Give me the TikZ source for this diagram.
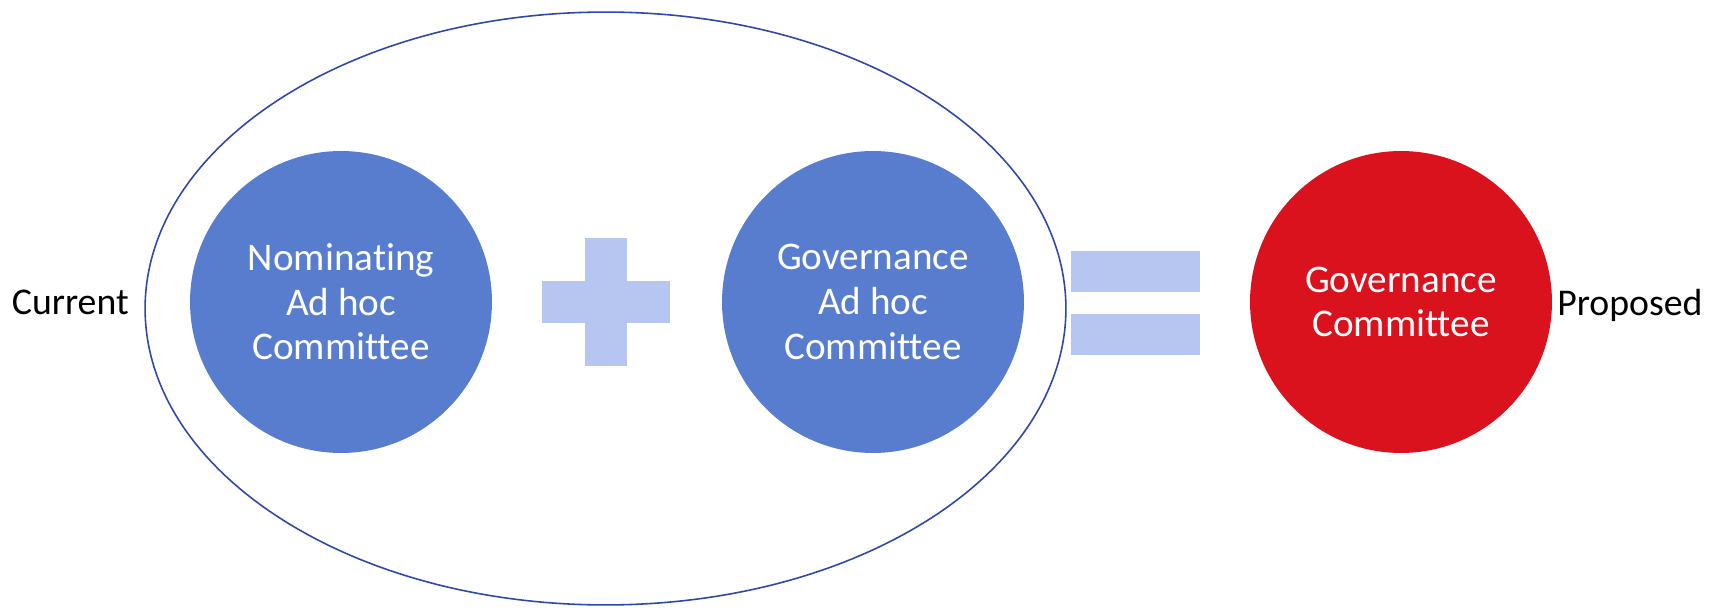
\documentclass[tikz,border=0pt]{standalone}
\usepackage{fontspec}
\setmainfont{Carlito}[Ligatures=NoCommon]
\usetikzlibrary{shapes.geometric}
\definecolor{committeeblue}{RGB}{88,124,206}
\definecolor{committeered}{RGB}{218,18,30}
\definecolor{signblue}{RGB}{182,198,240}
\definecolor{rimblue}{RGB}{46,72,170}
\begin{document}
\begin{tikzpicture}[x=0.02cm,y=0.02cm,
		committee/.style={circle,fill=#1,minimum size=6.04cm,inner sep=0pt,
			text=white,align=center,font=\mycirclefont},
		signbar/.style={rectangle,fill=signblue,inner sep=0pt},
		sidelabel/.style={font=\mytextfont,inner sep=0pt}]
		\newcommand{\mytextfont}{\fontsize{21.5}{25.4}\selectfont}
		\newcommand{\mycirclefont}{\fontsize{22.3}{25.4}\selectfont}
		\useasboundingbox (0,0) rectangle (1722,609);
		%Centres of the three committees
		\coordinate (cNom) at (341,307);
		\coordinate (cGovAh) at (873,307);
		\coordinate (cGov) at (1401,307);
		%Centres of the plus and the equals sign
		\coordinate (cPlus) at (606,307);
		\coordinate (cEq) at (1135.5,306);
		%Outer hull round the current committees
		\node [draw=rimblue,line width=0.9pt,ellipse,minimum width=18.42cm,minimum height=11.86cm,inner sep=0pt] (hull) at (605.5,300.5) {};
		%Committees
		\node [committee=committeeblue] (nom) at (cNom) {Nominating\\Ad hoc\\Committee};
		\node [committee=committeeblue] (govAh) at (cGovAh) {Governance\\Ad hoc\\Committee};
		\node [committee=committeered] (gov) at (cGov) {Governance\\Committee};
		%Plus sign
		\node [signbar,minimum width=2.58cm,minimum height=0.84cm] (plusH) at (cPlus) {};
		\node [signbar,minimum width=0.84cm,minimum height=2.58cm] (plusV) at (cPlus) {};
		%Equals sign
		\node [signbar,minimum width=2.58cm,minimum height=0.82cm] (eqTop) at ([yshift=0.63cm]cEq) {};
		\node [signbar,minimum width=2.58cm,minimum height=0.82cm] (eqBot) at ([yshift=-0.63cm]cEq) {};
		%Labels at both ends
		\node [sidelabel,anchor=base east] (current) at (129,294) {Current};
		\node [sidelabel,anchor=base west] (proposed) at (1557,293) {Proposed};
\end{tikzpicture}
\end{document}
